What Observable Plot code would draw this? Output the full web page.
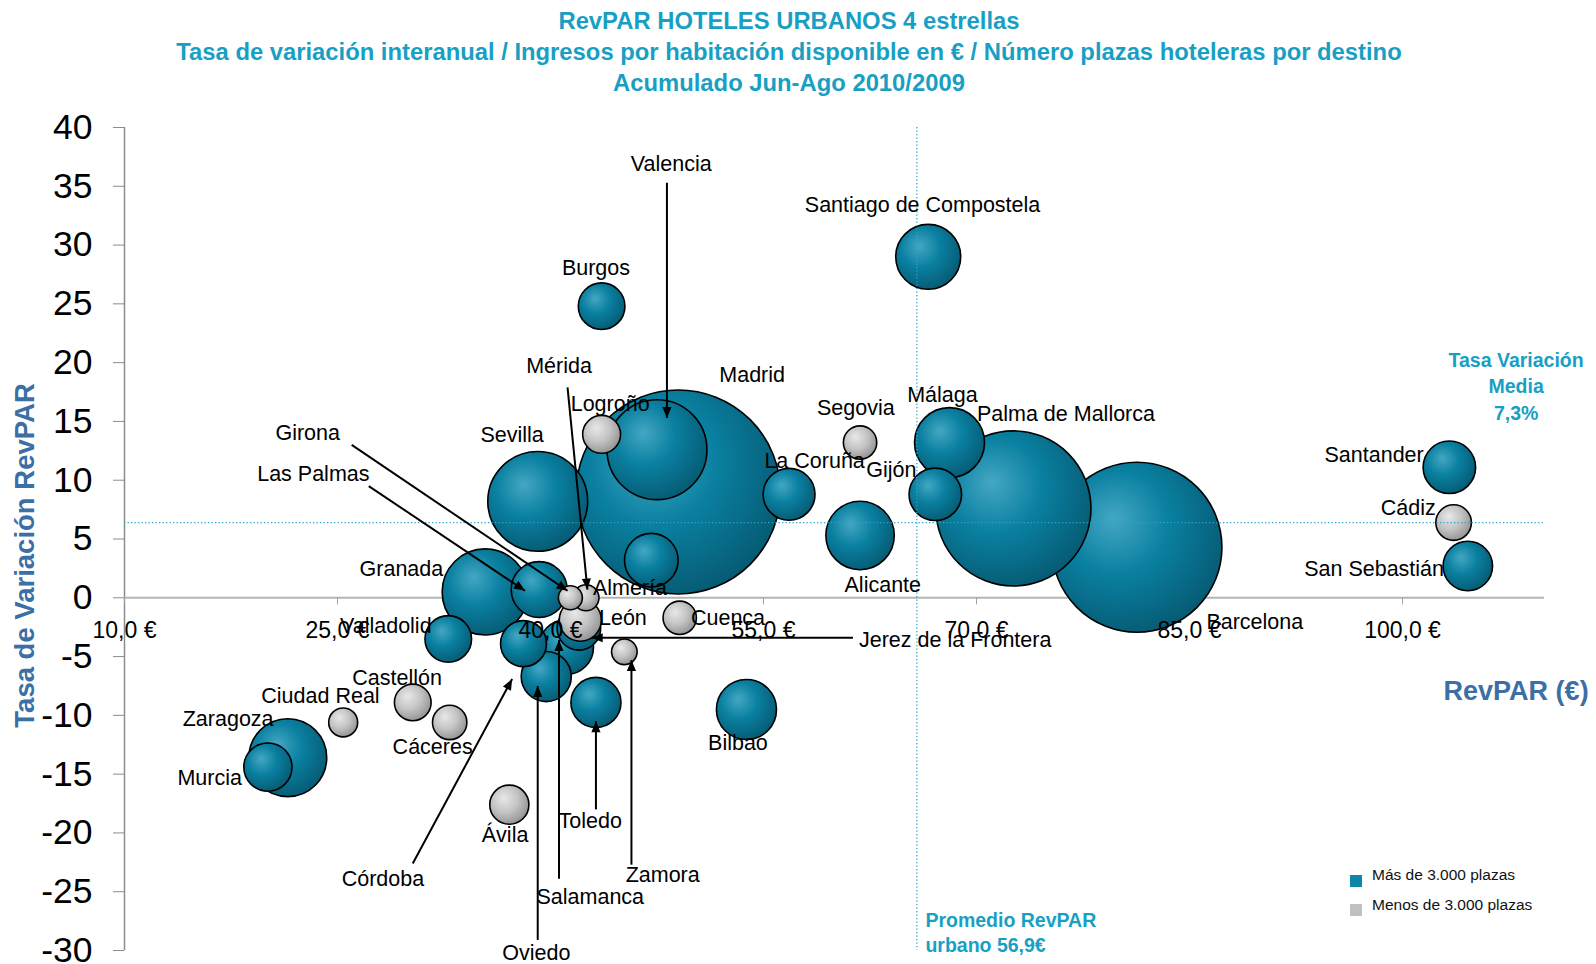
<!DOCTYPE html>
<html>
<head>
<meta charset="utf-8">
<script src="https://cdn.jsdelivr.net/npm/d3@7"></script>
<script src="https://cdn.jsdelivr.net/npm/@observablehq/plot@0.6"></script>
<style>
  html, body { margin: 0; padding: 0; background: white; }
  body { position: relative; width: 1596px; height: 964px; overflow: hidden; font-family: "Liberation Sans", Arial, sans-serif; }
  #title { width: 1578px; height: 95px; padding-top: 5px; text-align: center; color: #189fc3; font-weight: bold; font-size: 23.8px; line-height: 31px; }
  #chart svg { display: block; }
  .leg { position: absolute; left: 1350px; font-size: 15.5px; color: #111; }
  .leg span.sw { position: absolute; left: 0; width: 12px; height: 12px; }
  .leg span.tx { position: absolute; left: 22px; white-space: nowrap; line-height: 18px; }
</style>
</head>
<body>
<div id="title">
  <div>RevPAR HOTELES URBANOS 4 estrellas</div>
  <div>Tasa de variación interanual / Ingresos por habitación disponible en € / Número plazas hoteleras por destino</div>
  <div>Acumulado Jun-Ago 2010/2009</div>
</div>
<div id="chart"></div>
<div class="leg" style="top:875px"><span class="sw" style="top:0;background:#0d86a8"></span><span class="tx" style="top:-9px">Más de 3.000 plazas</span></div>
<div class="leg" style="top:904px"><span class="sw" style="top:0;background:#c0c0c0"></span><span class="tx" style="top:-8px">Menos de 3.000 plazas</span></div>
<script>
// ---- Data ----
const ciudades = ["Madrid","Barcelona","Palma de Mallorca","Valencia","Sevilla","Granada","Zaragoza","Málaga","Alicante","Santiago de Compostela","Bilbao","Las Palmas","Salamanca","Almería","Gijón","La Coruña","Santander","Oviedo","Toledo","San Sebastián","Murcia","Burgos","Valladolid","Córdoba","Jerez de la Frontera","León","Ávila","Logroño","Castellón","Cádiz","Cáceres","Segovia","Cuenca","Ciudad Real","Zamora","Girona","Mérida"];
const revpar = [49.0,81.3,72.6,47.5,39.1,35.4,21.5,68.1,61.8,66.6,53.8,39.2,41.1,47.1,67.1,56.8,103.3,39.7,43.2,104.6,20.1,43.6,32.8,38.1,42.0,42.1,37.1,43.6,30.3,103.6,32.9,61.8,49.1,25.4,45.2,41.4,42.5];
const tasa = [9.0,4.3,7.6,12.6,8.2,0.5,-13.6,13.2,5.3,29.0,-9.5,0.7,-4.2,3.2,8.8,8.8,11.1,-6.7,-8.9,2.7,-14.4,24.8,-3.5,-3.9,-2.6,-1.9,-17.6,13.9,-8.9,6.4,-10.6,13.2,-1.7,-10.6,-4.6,0.0,0.0];
const plazas = [68000,47200,39300,16300,16300,12100,9900,8000,7650,6900,5900,5100,4900,4700,4500,4400,4500,4100,4100,4000,3800,3550,3550,3450,3100,2900,2500,2350,2200,2070,1930,1820,1820,1370,1070,940,1100];
const umbralPlazas = 3000;

// label anchor points (data space), same order as ciudades
const etiquetaX = [54.2,89.6,76.3,48.5,37.3,29.5,17.3,67.6,63.4,66.2,53.2,23.3,42.8,45.6,64.0,58.6,98.0,39.0,42.8,98.0,16.0,43.2,28.4,28.2,68.5,45.1,36.8,44.2,29.2,100.4,31.7,61.5,52.5,23.8,47.9,22.9,40.6];
const etiquetaY = [18.9,-2.1,15.6,36.9,13.8,2.4,-10.3,17.2,1.1,33.4,-12.4,10.5,-25.5,0.8,10.9,11.6,12.1,-30.2,-19.0,2.4,-15.3,28.0,-2.4,-23.9,-3.6,-1.7,-20.2,16.5,-6.8,7.6,-12.7,16.1,-1.7,-8.4,-23.6,14.0,19.7];

// leader arrows (label -> bubble)
const flechaCiudad = ["Valencia","Girona","Las Palmas","Mérida","Córdoba","Oviedo","Salamanca","Toledo","Zamora","Jerez de la Frontera"];
const flechaX1 = [48.2,26.0,27.2,41.2,30.3,39.1,40.6,43.2,45.7,61.3];
const flechaY1 = [35.3,13.0,9.5,17.9,-22.6,-29.1,-23.9,-18.0,-22.7,-3.4];
const flechaX2 = [48.2,41.2,38.2,42.6,37.3,39.1,40.6,43.2,45.7,42.9];
const flechaY2 = [15.3,0.6,0.6,0.7,-6.9,-7.5,-3.6,-10.5,-5.3,-3.4];

const xTicks = [10,25,40,55,70,85,100];
const yTicks = [-30,-25,-20,-15,-10,-5,0,5,10,15,20,25,30,35,40];
const promedioRevpar = 65.8;   // position of the "Promedio RevPAR" reference line
const mediaTasa = 6.4;         // position of the "Tasa Variación Media" reference line

const notaMedia = {x: 108.0, y: 18.1, text: "Tasa Variación\nMedia\n7,3%"};
const notaPromedio = {x: 66.4, y: -28.4, text: "Promedio RevPAR\nurbano 56,9€"};
const notaEje = {x: 108.0, y: -8.0, text: "RevPAR (€)"};
const tituloY = {x: 3.0, y: 3.6, text: "Tasa de Variación RevPAR"};

// ---- Build tables ----
const datos = ciudades.map((c, i) => ({ciudad: c, revpar: revpar[i], tasa: tasa[i], plazas: plazas[i]}));
const etiquetas = ciudades.map((c, i) => ({ciudad: c, x: etiquetaX[i], y: etiquetaY[i]}));
const flechas = flechaCiudad.map((c, i) => ({ciudad: c, x1: flechaX1[i], y1: flechaY1[i], x2: flechaX2[i], y2: flechaY2[i]}));
const fmtEuro = d => d.toFixed(1).replace(".", ",") + " €";

const plot = Plot.plot({
  width: 1596,
  height: 864,
  marginTop: 27,
  marginBottom: 14,
  marginLeft: 124,
  marginRight: 52,
  x: {domain: [10, 110], axis: null},
  y: {domain: [-30, 40], axis: null},
  r: {type: "sqrt", domain: [0, 68000], range: [0, 102]},
  color: {type: "identity"},
  style: {fontFamily: "'Liberation Sans', Arial, sans-serif", background: "white", overflow: "visible"},
  marks: [
    Plot.ruleX([10], {stroke: "#8c8c8c", strokeWidth: 1.5}),
    Plot.axisY(yTicks, {anchor: "left", tickSize: 11, tickPadding: 21, fontSize: 35.5, stroke: "#8c8c8c", fill: "black", tickFormat: d => String(d), label: null}),
    Plot.ruleY([0], {stroke: "#b4b4b4", strokeWidth: 2}),
    Plot.ruleX(xTicks, {x: d => d, y1: 0, y2: -0.6, stroke: "#a0a0a0", strokeWidth: 1}),
    Plot.dot(datos, {x: "revpar", y: "tasa", r: "plazas", fill: d => d.plazas >= umbralPlazas ? "url(#gT)" : "url(#gG)", stroke: "black", strokeWidth: 1.6}),
    Plot.ruleY([mediaTasa], {stroke: "#2aa6c9", strokeWidth: 1.3, strokeDasharray: "1.3 2.2"}),
    Plot.ruleX([promedioRevpar], {stroke: "#2aa6c9", strokeWidth: 1.3, strokeDasharray: "1.3 2.2"}),
    Plot.link(flechas, {x1: "x1", y1: "y1", x2: "x2", y2: "y2", stroke: "black", strokeWidth: 2, markerEnd: "arrow"}),
    Plot.text(xTicks, {x: d => d, y: 0, dy: 33, text: fmtEuro, fontSize: 23, fill: "black"}),
    Plot.text(etiquetas, {x: "x", y: "y", text: "ciudad", fontSize: 21.5, fill: "black"}),
    Plot.text([notaMedia], {x: "x", y: "y", text: "text", textAnchor: "middle", fontSize: 19.5, fill: "#189fc3", fontWeight: "bold", lineHeight: 1.36}),
    Plot.text([notaPromedio], {x: "x", y: "y", text: "text", textAnchor: "start", fontSize: 19.5, fill: "#189fc3", fontWeight: "bold", lineHeight: 1.27}),
    Plot.text([notaEje], {x: "x", y: "y", text: "text", textAnchor: "middle", fontSize: 27, fill: "#3b6fa5", fontWeight: "bold"}),
    Plot.text([tituloY], {x: "x", y: "y", text: "text", rotate: -90, fontSize: 27.5, fontWeight: "bold", fill: "#3b6fa5"})
  ]
});

// gradients for the bubbles
const ns = "http://www.w3.org/2000/svg";
const defs = document.createElementNS(ns, "defs");
defs.innerHTML = `
  <radialGradient id="gT" cx="0.4" cy="0.38" r="0.68" fx="0.36" fy="0.33">
    <stop offset="0" stop-color="#44a7c3"/>
    <stop offset="0.45" stop-color="#0a80a1"/>
    <stop offset="1" stop-color="#065870"/>
  </radialGradient>
  <radialGradient id="gG" cx="0.4" cy="0.38" r="0.68" fx="0.36" fy="0.33">
    <stop offset="0" stop-color="#e8e8e8"/>
    <stop offset="0.5" stop-color="#c4c4c4"/>
    <stop offset="1" stop-color="#8e8e8e"/>
  </radialGradient>`;
plot.insertBefore(defs, plot.firstChild);

// filled triangular arrow heads
plot.querySelectorAll("marker").forEach(m => {
  m.setAttribute("viewBox", "-12 -6 12 12");
  m.setAttribute("markerWidth", 6);
  m.setAttribute("markerHeight", 6);
  m.setAttribute("fill", "black");
  m.setAttribute("stroke", "none");
  m.innerHTML = '<path d="M0,0L-11,-4.6L-11,4.6Z"/>';
});

document.getElementById("chart").appendChild(plot);
</script>
</body>
</html>
